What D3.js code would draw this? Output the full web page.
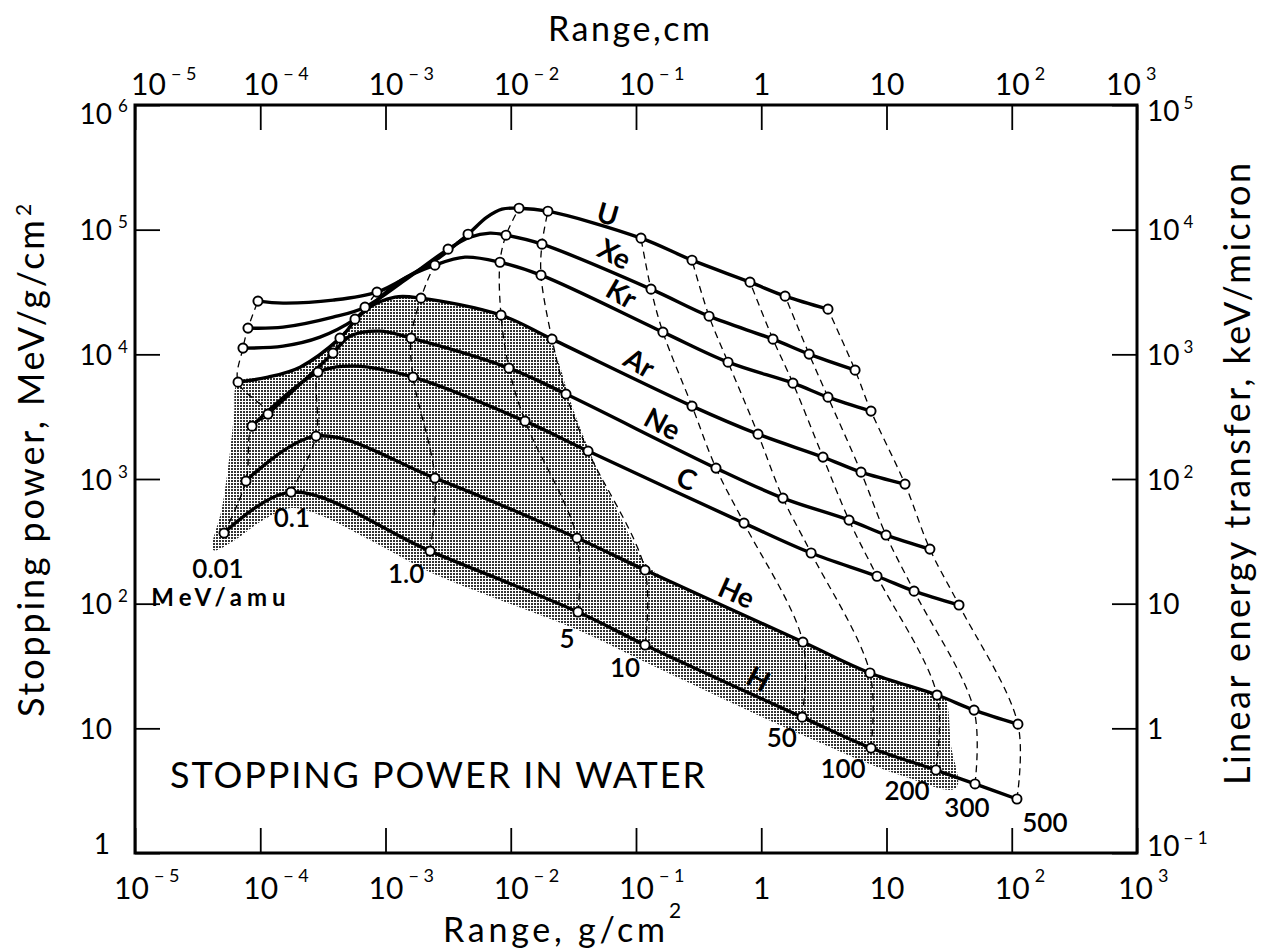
<!DOCTYPE html>
<html><head><meta charset="utf-8">
<script src="https://cdn.jsdelivr.net/npm/d3@7"></script>
<style>
html,body{margin:0;padding:0;background:#fff;}
svg{display:block;}
text{font-family:Lato,"Open Sans",sans-serif;fill:#000;}
</style></head><body>
<svg id="chart" width="1261" height="951"></svg>
<script>
// ---------------- data (range in g/cm^2, stopping power in MeV/(g/cm^2)) ----------------
const energies = [0.01, 0.1, 1.0, 5, 10, 50, 100, 200, 300, 500];           // MeV/amu
const energyLabels = ["0.01", "0.1", "1.0", "5", "10", "50", "100", "200", "300", "500"];
const ionNames = ["H", "He", "C", "Ne", "Ar", "Kr", "Xe", "U"];

const rangeH  = [5.14e-5, 1.76e-4, 2.27e-3, 3.44e-2, 0.118, 2.12, 7.52, 24.8, 50.9, 110];
const stopH   = [368, 785, 264, 85.7, 46.6, 12.3, 6.95, 4.63, 3.58, 2.71];
const rangeHe = [7.69e-5, 2.79e-4, 2.48e-3, 3.38e-2, 0.118, 2.15, 7.38, 25.3, 50.0, 112];
const stopHe  = [962, 2208, 1017, 336, 186, 49.2, 27.8, 18.5, 14.0, 10.8];
const rangeC  = [8.59e-5, 2.89e-4, 1.66e-3, 1.30e-2, 4.14e-2, 0.728, 2.50, 8.40, 16.6, 37.9];
const stopC   = [2655, 7200, 6560, 2912, 1675, 443, 255, 166, 126, 97.5];
const rangeNe = [1.153e-4, 3.81e-4, 1.60e-3, 9.68e-3, 2.76e-2, 0.435, 1.49, 5.02, 9.91, 22.2];
const stopNe  = [3315, 10230, 13490, 7750, 4800, 1223, 703, 468, 355, 274];
const rangeAr = [6.65e-5, 4.33e-4, 1.92e-3, 8.36e-3, 2.135e-2, 0.280, 0.942, 3.11, 6.26, 14.05];
const stopAr  = [5985, 13490, 28230, 20620, 13240, 3845, 2290, 1499, 1135, 910];
const rangeKr = [7.28e-5, 5.71e-4, 2.48e-3, 8.20e-3, 1.744e-2, 0.164, 0.543, 1.79, 3.41, 7.52];
const stopKr  = [11220, 19150, 51900, 54800, 43150, 15070, 8650, 5875, 4535, 3505];
const rangeXe = [7.98e-5, 6.86e-4, 3.16e-3, 9.17e-3, 1.776e-2, 0.1318, 0.383, 1.24, 2.41, 5.61];
const stopXe  = [16230, 23900, 69800, 90300, 76500, 33340, 20230, 13240, 10040, 7470];
const rangeU  = [9.59e-5, 8.55e-4, 4.56e-3, 1.164e-2, 1.98e-2, 0.1096, 0.280, 0.813, 1.55, 3.41];
const stopU   = [26720, 31550, 92000, 148700, 140700, 85500, 56900, 37930, 29300, 23030];

// extra points read along the curves between the marked energies
const bendH  = [];
const bendHe = [];
const bendC  = [[5.71e-4, 8040]];
const bendNe = [[5.21e-4, 14000], [9.04e-4, 15350]];
const bendAr = [[1.153e-4, 6560], [2.08e-4, 7890], [6.86e-4, 22600], [1.19e-3, 28750]];
const bendKr = [[1.52e-4, 11640], [3.0e-4, 13740], [1.305e-3, 38640], [4.31e-3, 60200]];
const bendXe = [[1.52e-4, 16520], [3.81e-4, 19870], [1.43e-3, 39370], [4.73e-3, 87100], [6.83e-3, 93750]];
const bendU  = [[1.52e-4, 25750], [3.81e-4, 27210], [1.57e-3, 43150], [2.72e-3, 60200], [6.46e-3, 126000], [8.51e-3, 146000]];

// stippled region outline
const shadedOutline = [[4.20e-5, 269], [4.95e-5, 584], [5.63e-5, 1418], [6.17e-5, 3252], [6.65e-5, 5985],
  [1.153e-4, 6560], [2.08e-4, 7890], [4.33e-4, 13490], [6.86e-4, 22600], [1.19e-3, 28750], [1.92e-3, 28230],
  [3.93e-3, 25270], [8.36e-3, 20620], [1.425e-2, 16520], [1.98e-2, 13490], [2.38e-2, 8980], [2.97e-2, 4295],
  [3.91e-2, 2051], [5.16e-2, 1075], [7.05e-2, 563], [9.46e-2, 312], [0.1294, 193], [0.469, 99], [2.15, 49.2],
  [7.38, 27.8], [25.3, 18.5], [29.3, 17.5], [32.7, 7.35], [35.9, 3.32], [12.8, 4.22], [2.12, 8.84],
  [0.324, 21.1], [0.118, 34.0], [3.44e-2, 61.4], [8.20e-3, 107], [2.27e-3, 179], [7.51e-4, 324],
  [3.0e-4, 513], [1.76e-4, 584], [9.95e-5, 451], [6.29e-5, 324]];

// annotation anchors (range, stopping power)
const ionLabelAt = [[0.959, 25.3], [0.640, 124], [0.255, 1017], [0.164, 2807], [0.1076, 8650], [7.73e-2, 30960], [6.80e-2, 64800], [5.98e-2, 135600]];
const ionLabelText = ["H", "He", "C", "Ne", "Ar", "Kr", "Xe", "U"];
const energyLabelAt = [[4.60e-5, 193], [1.79e-4, 495], [1.46e-3, 176], [2.81e-2, 53.0], [8.17e-2, 31.0], [1.46, 8.52], [4.50, 4.80], [14.6, 3.20], [43.9, 2.34], [184, 1.77]];
const unitLabelAt = [4.86e-5, 115];

const xTicks = [1e-5, 1e-4, 1e-3, 1e-2, 1e-1, 1, 10, 100, 1000];
const yTicks = [1, 10, 100, 1e3, 1e4, 1e5, 1e6];
const letTicks = [0.1, 1, 10, 100, 1e3, 1e4, 1e5];

// ---------------- build tables ----------------
const ionTable = {
  H: {r: rangeH, s: stopH, bend: bendH}, He: {r: rangeHe, s: stopHe, bend: bendHe},
  C: {r: rangeC, s: stopC, bend: bendC}, Ne: {r: rangeNe, s: stopNe, bend: bendNe},
  Ar: {r: rangeAr, s: stopAr, bend: bendAr}, Kr: {r: rangeKr, s: stopKr, bend: bendKr},
  Xe: {r: rangeXe, s: stopXe, bend: bendXe}, U: {r: rangeU, s: stopU, bend: bendU}
};

// ---------------- scales ----------------
const L = 135, R = 1137, T = 105, B = 853;
const x = d3.scaleLog().domain([1e-5, 1e3]).range([L, R]);
const xTop = d3.scaleLog().domain([1e-5, 1e3]).range([L, R]);      // range in cm (water)
const y = d3.scaleLog().domain([1, 1e6]).range([B, T]);
const yLet = d3.scaleLog().domain([0.1, 1e5]).range([B, T]);        // keV/micron

const svg = d3.select("#chart");
const defs = svg.append("defs");
const pat = defs.append("pattern").attr("id", "stipple").attr("patternUnits", "userSpaceOnUse")
  .attr("width", 3).attr("height", 3);
pat.append("rect").attr("width", 3).attr("height", 3).attr("fill", "#fff");
pat.append("rect").attr("width", 2).attr("height", 2).attr("fill", "#333");

// shaded region
svg.append("path").datum(shadedOutline)
  .attr("d", d3.line().x(d => x(d[0])).y(d => y(d[1])).curve(d3.curveCatmullRomClosed.alpha(0.5)))
  .attr("fill", "url(#stipple)").attr("stroke", "none");

// iso-energy dashed lines
const isoLine = d3.line().x(d => x(d[0])).y(d => y(d[1])).curve(d3.curveCatmullRom.alpha(0.5));
energies.forEach((e, i) => {
  const pts = ionNames.map(n => [ionTable[n].r[i], ionTable[n].s[i]]);
  svg.append("path").datum(pts).attr("d", isoLine)
    .attr("fill", "none").attr("stroke", "#000").attr("stroke-width", 1.3).attr("stroke-dasharray", "7,5");
});

// ion curves
const curveLine = d3.line().x(d => x(d[0])).y(d => y(d[1])).curve(d3.curveCatmullRom.alpha(0.5));
ionNames.forEach(n => {
  const t = ionTable[n];
  const pts = t.r.map((r, i) => [r, t.s[i]]).concat(t.bend).sort((a, b) => a[0] - b[0]);
  svg.append("path").datum(pts).attr("d", curveLine)
    .attr("fill", "none").attr("stroke", "#000").attr("stroke-width", 3.4)
    .attr("stroke-linejoin", "round").attr("stroke-linecap", "round");
});
// markers
ionNames.forEach(n => {
  const t = ionTable[n];
  svg.append("g").selectAll("circle").data(t.r.map((r, i) => [r, t.s[i]])).join("circle")
    .attr("cx", d => x(d[0])).attr("cy", d => y(d[1])).attr("r", 4.6)
    .attr("fill", "#fff").attr("stroke", "#000").attr("stroke-width", 1.9);
});

// ---------------- axes ----------------
function powParts(v) {
  const e = Math.round(Math.log10(v));
  if (e === 0) return ["1", null];
  if (e === 1) return ["10", null];
  return ["10", e < 0 ? "\u2212 " + (-e) : String(e)];
}
function styleAxis(g) {
  g.select(".domain").remove();
  g.selectAll(".tick line").attr("stroke", "#000").attr("stroke-width", 1.8);
  g.attr("font-family", null).attr("font-size", null);
}
function xLabels(g, baseY, supDy, shift) {
  g.selectAll(".tick").each(function (d) {
    const [main, sup] = powParts(d);
    const t = d3.select(this);
    const dx = shift(d);
    const m = t.append("text").attr("x", dx).attr("y", baseY).attr("text-anchor", "middle")
      .attr("font-size", 30).text(main);
    if (sup) {
      const w = m.node().getComputedTextLength();
      t.append("text").attr("x", dx + w / 2 + 5).attr("y", baseY + supDy).attr("text-anchor", "start")
        .attr("font-size", 18).text(sup);
    }
  });
}
function yLabels(g, side, shift) {
  g.selectAll(".tick").each(function (d) {
    const [main, sup] = powParts(d);
    const t = d3.select(this);
    const dy = shift(d);
    if (side === "left") {
      t.append("text").attr("x", main === "1" ? -25 : -23).attr("y", 10 + dy).attr("text-anchor", "end")
        .attr("font-size", 28).text(main);
      if (sup) t.append("text").attr("x", -17).attr("y", -2 + dy).attr("text-anchor", "start")
        .attr("font-size", 17).text(sup);
    } else {
      const m = t.append("text").attr("x", 10).attr("y", 10 + dy).attr("text-anchor", "start")
        .attr("font-size", 28).text(main);
      if (sup) {
        const w = m.node().getComputedTextLength();
        t.append("text").attr("x", 10 + w + 4).attr("y", -2 + dy).attr("text-anchor", "start")
          .attr("font-size", 17).text(sup);
      }
    }
  });
}

const gB = svg.append("g").attr("transform", `translate(0,${B})`)
  .call(d3.axisBottom(x).tickValues(xTicks).tickSizeInner(-25).tickSizeOuter(0).tickFormat(""));
styleAxis(gB); xLabels(gB, 46, -17, d => d === 1e-5 ? -4 : (d === 1e3 ? -2 : 0));

const gT = svg.append("g").attr("transform", `translate(0,${T})`)
  .call(d3.axisTop(xTop).tickValues(xTicks).tickSizeInner(-25).tickSizeOuter(0).tickFormat(""));
styleAxis(gT); xLabels(gT, -10, -15, d => d === 1e-5 ? 13 : (d === 1e3 ? -14 : 0));

const gL = svg.append("g").attr("transform", `translate(${L},0)`)
  .call(d3.axisLeft(y).tickValues(yTicks).tickSizeInner(-25).tickSizeOuter(0).tickFormat(""));
styleAxis(gL); yLabels(gL, "left", d => d === 1e6 ? 8 : (d === 1 ? -10 : 0));

const gR = svg.append("g").attr("transform", `translate(${R},0)`)
  .call(d3.axisRight(yLet).tickValues(letTicks).tickSizeInner(-25).tickSizeOuter(0).tickFormat(""));
styleAxis(gR); yLabels(gR, "right", d => d === 1e5 ? 5 : (d === 0.1 ? -8 : 0));

// frame
svg.append("rect").attr("x", L).attr("y", T).attr("width", R - L).attr("height", B - T)
  .attr("fill", "none").attr("stroke", "#000").attr("stroke-width", 3);

// ---------------- titles ----------------
svg.append("text").attr("x", 629).attr("y", 41).attr("text-anchor", "middle").attr("font-size", 34)
  .attr("textLength", 162).attr("lengthAdjust", "spacing").text("Range,cm");
svg.append("text").attr("x", 443).attr("y", 942).attr("font-size", 34)
  .attr("textLength", 222).attr("lengthAdjust", "spacing").text("Range, g/cm");
svg.append("text").attr("x", 669).attr("y", 918).attr("font-size", 21).text("2");

svg.append("text").attr("transform", "translate(44,717) rotate(-90)").attr("font-size", 36)
  .attr("textLength", 497).attr("lengthAdjust", "spacing").text("Stopping power, MeV/g/cm");
svg.append("text").attr("transform", "translate(31,216) rotate(-90)").attr("font-size", 21).text("2");

svg.append("text").attr("transform", "translate(1250,785) rotate(-90)").attr("font-size", 36)
  .attr("textLength", 622).attr("lengthAdjust", "spacing").text("Linear energy transfer, keV/micron");

svg.append("text").attr("x", 170).attr("y", 788).attr("font-size", 36)
  .attr("textLength", 535).attr("lengthAdjust", "spacing").text("STOPPING POWER IN WATER");

// ---------------- annotations ----------------
const ionAngles = [28, 24, 22, 28, 30, 30, 28, 16];
ionLabelAt.forEach((p, i) => {
  svg.append("text").attr("transform", `translate(${x(p[0])},${y(p[1])}) rotate(${ionAngles[i]})`)
    .attr("text-anchor", "middle").attr("dominant-baseline", "central")
    .attr("font-size", 28).attr("font-weight", 700).text(ionLabelText[i]);
});
energyLabelAt.forEach((p, i) => {
  svg.append("text").attr("x", x(p[0])).attr("y", y(p[1])).attr("text-anchor", "middle")
    .attr("dominant-baseline", "central").attr("font-size", 26).attr("font-weight", 600)
    .text(energyLabels[i]);
});
svg.append("text").attr("x", x(unitLabelAt[0])).attr("y", y(unitLabelAt[1])).attr("text-anchor", "middle")
  .attr("dominant-baseline", "central").attr("font-size", 24).attr("font-weight", 700)
  .attr("letter-spacing", 5).text("MeV/amu");
</script>
</body></html>
